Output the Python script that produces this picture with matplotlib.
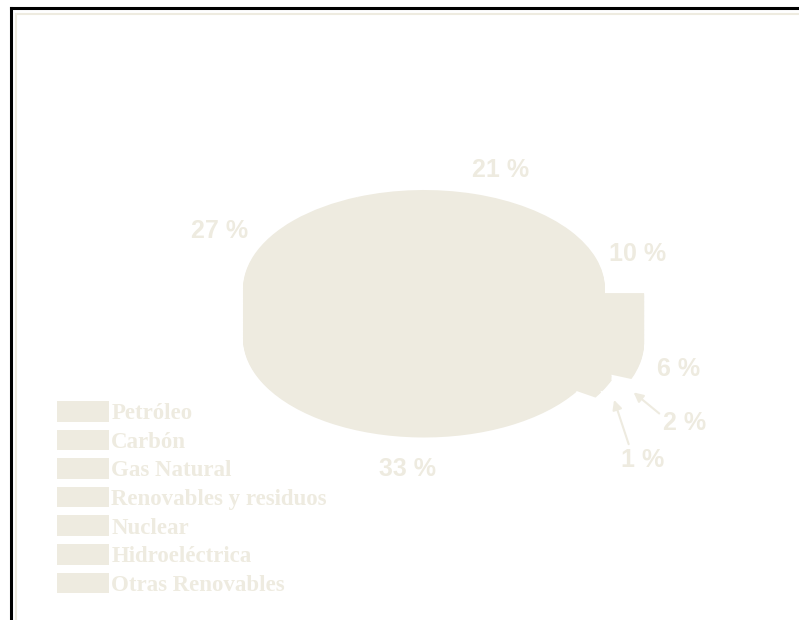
import numpy as np
import matplotlib
matplotlib.use("Agg")
import matplotlib.pyplot as plt
from matplotlib.lines import Line2D

# ---- data ----
categories = ["Petróleo", "Carbón", "Gas Natural", "Renovables y residuos",
              "Nuclear", "Hidroeléctrica", "Otras Renovables"]
values = [33, 27, 21, 10, 6, 2, 1]
pct_labels = [f"{v} %" for v in values]

# ---- style ----
BEIGE = "#EEEBE0"
W, H, DPI = 799, 620, 100
fig = plt.figure(figsize=(W / DPI, H / DPI), dpi=DPI, facecolor="white")

# pie geometry (pixel layout)
cx_px, cy_px = 424, 289          # center of top ellipse
rx_px, ry_px = 181, 99           # ellipse radii
depth = 0.5                      # extrusion depth in y units

ax = fig.add_axes([0, 0, 1, 1])
explode = [0, 0, 0, 0, 0.22, 0.12, 0.12]
startangle = -360 * sum(values[4:]) / 100.0
wedges = None
for t in np.linspace(depth, 0, 40):
    w, _ = ax.pie(values, startangle=startangle, counterclock=False,
                  colors=[BEIGE] * len(values), explode=explode,
                  center=(0, -t), radius=1.0,
                  wedgeprops=dict(linewidth=0, antialiased=True))
    if wedges is None:
        wedges = w
ax.set_aspect("auto")
ax.set_xlim(-cx_px / rx_px, (W - cx_px) / rx_px)
ax.set_ylim(-(H - cy_px) / ry_px, cy_px / ry_px)
ax.axis("off")

# percentage labels, positioned by wedge mid-angle
label_r = [1.28, 1.20, 1.22, 1.30, 1.45]
label_dx = [-0.05, 0.0, 0.08, -0.055, -0.017]
label_dy = [-0.54, 0.18, 0.03, -0.05, -0.54]
fs = 18
for i in range(5):
    wdg = wedges[i]
    a = np.deg2rad((wdg.theta1 + wdg.theta2) / 2)
    ax.text(label_r[i] * np.cos(a) + label_dx[i],
            label_r[i] * np.sin(a) + label_dy[i],
            pct_labels[i], ha="center", va="center", fontsize=fs,
            fontweight="bold", family="Liberation Sans", color=BEIGE)

# annotated small slices: text position, tip radius, arrow start on text box
ann = {5: ((1.44, -1.35), 1.16, (0.0, 0.75)),
       6: ((1.21, -1.73), 1.10, (0.2, 1.0))}
for i, (txt_xy, r, rel) in ann.items():
    wdg = wedges[i]
    a = np.deg2rad((wdg.theta1 + wdg.theta2) / 2)
    ex = explode[i]
    tip = ((r + ex) * np.cos(a), (r + ex) * np.sin(a) - depth)
    ax.annotate(pct_labels[i], xy=tip, xytext=txt_xy, ha="center", va="center",
                fontsize=fs, fontweight="bold", family="Liberation Sans",
                color=BEIGE,
                arrowprops=dict(arrowstyle="-|>", color=BEIGE, lw=1.5,
                                relpos=rel, shrinkA=1, shrinkB=0,
                                mutation_scale=14))

# legend
leg = fig.legend(wedges, categories, loc="upper left",
                 bbox_to_anchor=(57 / W, 1 - 401 / H), frameon=False,
                 prop=dict(family="Liberation Serif", weight="bold", size=16.5),
                 labelcolor=BEIGE, handlelength=2.27, handleheight=1.0,
                 handletextpad=0.1, labelspacing=0.24, borderpad=0,
                 borderaxespad=0)

# frame decoration (black border top/left, inner beige line)
fig.add_artist(Line2D([11 / W, 11 / W], [0, 1 - 8 / H], color="black", lw=2.2,
                      transform=fig.transFigure))
fig.add_artist(Line2D([11 / W, 1], [1 - 8 / H, 1 - 8 / H], color="black", lw=2.2,
                      transform=fig.transFigure))
fig.add_artist(Line2D([15.5 / W, 15.5 / W], [0, 1 - 13.5 / H], color=BEIGE, lw=1.5,
                      transform=fig.transFigure))
fig.add_artist(Line2D([15.5 / W, 1], [1 - 13.5 / H, 1 - 13.5 / H], color=BEIGE,
                      lw=1.5, transform=fig.transFigure))

fig.savefig("out.png", dpi=DPI, facecolor="white")
